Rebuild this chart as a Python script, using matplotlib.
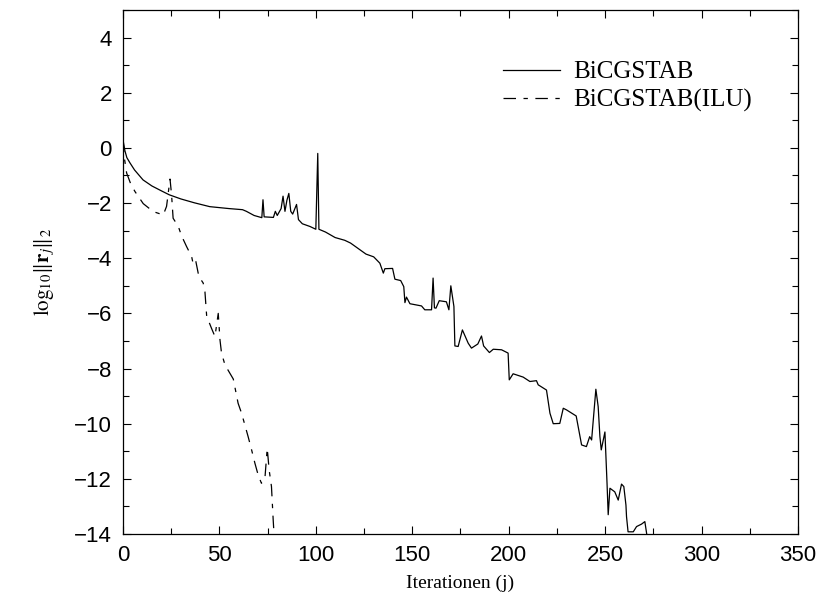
import matplotlib
matplotlib.use("Agg")
import matplotlib.pyplot as plt
from matplotlib.ticker import MultipleLocator

plt.rcParams['mathtext.fontset'] = 'stix'

# Residual history of plain BiCGSTAB
iter_plain = [0, 1, 2, 3.6, 6, 10.4, 15, 20, 24, 30, 37, 45, 55, 62, 64, 68, 72,
              72.6, 73.2, 78, 79, 80, 82, 83, 84, 85, 86, 87, 88, 90, 91, 93, 97,
              100, 101, 101.6, 105, 110, 115, 118, 122, 126, 130, 133.2, 135,
              135.8, 139.8, 141, 144, 145.6, 146.2, 147, 148.8, 154.8, 156.5,
              160, 160.8, 161.5, 162.3, 164, 167.7, 169, 170, 171.6, 172.1,
              173.8, 176, 179, 180.7, 184, 185.9, 187, 190, 192, 196.3, 199.7,
              200.3, 202.3, 207.5, 211, 214.4, 215.3, 219.6, 221.4, 223.1,
              226.5, 228.3, 230, 235, 237.8, 240.3, 242, 243, 245.2, 246.4,
              247.3, 248, 249.9, 251, 251.6, 252.5, 255, 256.8, 258.5, 259.7,
              260.8, 261.1, 261.9, 264.6, 266.3, 268.9, 270.6, 271.4, 272]
res_plain = [0.30, -0.10, -0.35, -0.54, -0.80, -1.16, -1.38, -1.56, -1.70, -1.85,
             -1.99, -2.13, -2.20, -2.24, -2.30, -2.45, -2.53, -1.88, -2.50, -2.52,
             -2.30, -2.45, -2.20, -1.75, -2.30, -1.90, -1.65, -2.30, -2.40, -2.05,
             -2.60, -2.75, -2.85, -2.95, -0.20, -2.95, -3.05, -3.25, -3.35, -3.45,
             -3.65, -3.85, -3.95, -4.18, -4.54, -4.38, -4.37, -4.76, -4.81, -5.03,
             -5.61, -5.41, -5.65, -5.73, -5.87, -5.87, -4.72, -5.80, -5.81, -5.54,
             -5.58, -5.87, -5.00, -5.75, -7.18, -7.20, -6.60, -7.08, -7.26, -7.11,
             -6.82, -7.18, -7.42, -7.30, -7.32, -7.44, -8.41, -8.19, -8.31, -8.47,
             -8.44, -8.59, -8.78, -9.62, -10.00, -9.99, -9.44, -9.50, -9.72,
             -10.77, -10.83, -10.47, -10.59, -8.75, -9.38, -10.47, -10.95, -10.30,
             -12.17, -13.30, -12.34, -12.47, -12.77, -12.19, -12.28, -12.95,
             -13.37, -13.92, -13.92, -13.73, -13.64, -13.55, -13.92, -14.20]

# Residual history of ILU-preconditioned BiCGSTAB
iter_ilu = [0, 0.8, 1.9, 4, 6.2, 10.5, 15.7, 20.9, 22.6, 24.4, 25.2, 26, 28.7,
            30.4, 33, 35.6, 36.5, 37.8, 39, 39.9, 41.6, 42.5, 43.4, 45.9, 47.7,
            49.4, 50.3, 51.1, 52.9, 57.2, 59.7, 61.5, 64.9, 66.7, 68.4, 70.1,
            71.8, 73.6, 74.8, 75.8, 77, 77.9, 78.5]
res_ilu = [0.30, -0.40, -0.91, -1.30, -1.58, -2.02, -2.31, -2.43, -2.12, -1.13,
           -1.70, -2.55, -2.85, -3.19, -3.58, -3.94, -4.24, -4.12, -4.54, -4.72,
           -4.90, -5.21, -6.10, -6.54, -6.84, -6.00, -6.96, -7.44, -7.87, -8.38,
           -9.26, -9.62, -10.47, -10.95, -11.43, -11.86, -12.16, -11.98, -10.89,
           -11.68, -12.28, -13.50, -14.20]

fig = plt.figure(figsize=(8.32, 6.03), dpi=100)
ax = fig.add_axes([0.1478, 0.1144, 0.8113, 0.869])

ax.plot(iter_plain, res_plain, color='black', lw=0.9, label='BiCGSTAB')
ax.plot(iter_ilu, res_ilu, color='black', lw=0.9, dashes=(10, 6, 3.5, 6),
        label='BiCGSTAB(ILU)')

ax.set_xlim(0, 350)
ax.set_ylim(-14, 5)
ax.xaxis.set_major_locator(MultipleLocator(50))
ax.xaxis.set_minor_locator(MultipleLocator(25))
ax.yaxis.set_major_locator(MultipleLocator(2))
ax.yaxis.set_minor_locator(MultipleLocator(1))
ax.tick_params(which='both', direction='in', top=True, right=True,
               labelsize=16, pad=8)
ax.tick_params(which='major', length=6, width=0.8)
ax.tick_params(which='minor', length=4, width=0.8)
for lab in ax.get_xticklabels() + ax.get_yticklabels():
    lab.set_family('Liberation Sans')
for s in ax.spines.values():
    s.set_linewidth(0.9)

ax.set_xlabel('Iterationen (j)', family='Liberation Serif', fontsize=14, labelpad=6)
ax.set_ylabel(r'$\mathrm{log}_{10}\|\mathbf{r}_j\|_2$', fontsize=15, labelpad=12)

leg = ax.legend(loc='upper left', bbox_to_anchor=(0.563, 0.903), frameon=False,
                prop={'family': 'Liberation Serif', 'size': 18},
                handlelength=2.3, handletextpad=0.5, labelspacing=0.22,
                borderpad=0, borderaxespad=0)

fig.savefig('out.png', dpi=100)
